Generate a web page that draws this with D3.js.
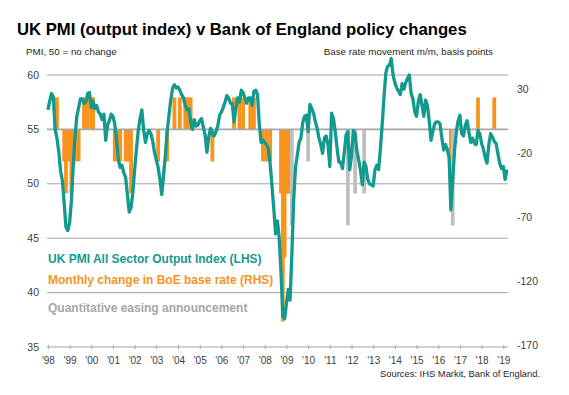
<!DOCTYPE html>
<html>
<head>
<meta charset="utf-8">
<script src="https://cdn.jsdelivr.net/npm/d3@7"></script>
<style>
  body { margin: 0; background: #fff; }
  svg { font-family: "Liberation Sans", Arial, sans-serif; }
</style>
</head>
<body>
<svg></svg>
<script>
// PMI all sector output index, monthly from Jan 1998
const pmi_values = [
  56.8, 57.6, 58.3, 58.0, 55.0, 54.2, 53.0, 51.2, 50.3, 48.2, 46.0, 45.7, // 1998
  46.4, 48.4, 51.6, 54.3, 56.2, 57.0, 57.8, 57.8, 57.4, 57.5, 58.3, 58.4, // 1999
  57.0, 57.6, 56.9, 57.2, 56.6, 56.4, 55.9, 56.4, 54.0, 55.4, 55.8, 56.4, // 2000
  56.2, 55.5, 54.0, 52.2, 51.5, 51.7, 51.0, 50.6, 49.0, 47.4, 47.8, 49.2, // 2001
  51.3, 53.2, 54.9, 56.0, 56.8, 54.9, 53.8, 54.6, 54.9, 54.6, 53.9, 52.9, // 2002
  52.2, 51.5, 50.4, 49.0, 50.8, 52.6, 54.8, 56.3, 57.7, 58.8, 59.1, 58.8, // 2003
  58.9, 58.6, 58.2, 57.9, 57.2, 56.8, 56.9, 55.7, 55.0, 55.9, 55.3, 55.4, // 2004
  55.8, 56.0, 55.2, 54.5, 52.9, 54.3, 55.1, 54.6, 54.4, 54.8, 55.3, 56.3, // 2005
  56.6, 57.0, 57.5, 58.1, 57.9, 57.4, 57.4, 55.7, 56.9, 57.9, 57.5, 58.6, // 2006
  58.4, 57.9, 57.4, 57.9, 57.9, 57.2, 58.5, 58.6, 58.2, 55.4, 53.8, 54.0, // 2007
  53.8, 53.6, 53.2, 51.8, 49.8, 47.7, 45.4, 46.6, 45.0, 41.8, 37.8, 37.6, // 2008
  39.0, 40.3, 39.3, 43.5, 48.5, 51.5, 52.6, 53.8, 54.2, 55.6, 56.2, 56.3, // 2009
  54.8, 57.3, 56.9, 56.5, 55.7, 55.1, 54.2, 53.6, 52.8, 54.2, 54.4, 53.6, // 2010
  51.6, 56.5, 56.0, 54.8, 53.3, 52.0, 52.0, 51.4, 52.9, 54.5, 54.8, 51.3, // 2011
  52.5, 54.9, 54.6, 53.0, 52.2, 51.2, 49.9, 52.0, 51.6, 50.4, 50.0, 49.9, // 2012
  49.8, 51.3, 51.7, 51.3, 53.2, 55.5, 58.0, 60.2, 60.8, 60.9, 61.5, 60.0, // 2013
  59.3, 58.8, 58.5, 58.2, 59.2, 58.7, 59.3, 59.7, 60.0, 58.3, 57.8, 56.6, // 2014
  56.2, 57.6, 58.2, 57.2, 56.2, 57.7, 57.2, 55.8, 54.0, 54.8, 55.5, 55.7, // 2015
  55.7, 55.5, 54.2, 53.1, 53.6, 53.2, 52.4, 47.6, 50.3, 53.0, 54.8, 55.8, // 2016
  56.3, 54.6, 54.4, 55.4, 55.8, 54.7, 53.8, 54.2, 53.7, 53.6, 54.9, 54.6, // 2017
  53.7, 53.2, 52.4, 51.9, 53.6, 54.6, 54.3, 53.9, 53.7, 52.8, 51.9, 51.4, // 2018
  51.6, 50.4, 51.3 // 2019
];

// BoE base rate changes, basis points
const rate_months = [
  "1998-06", "1998-10", "1998-11", "1998-12", "1999-01", "1999-02", "1999-04",
  "1999-06", "1999-09", "1999-11", "2000-01", "2000-02", "2001-02", "2001-04",
  "2001-05", "2001-08", "2001-09", "2001-10", "2001-11", "2003-02", "2003-07",
  "2003-11", "2004-02", "2004-05", "2004-06", "2004-08", "2005-08", "2006-08",
  "2006-11", "2007-01", "2007-05", "2007-07", "2007-12", "2008-02", "2008-04",
  "2008-10", "2008-11", "2008-12", "2009-01", "2009-02", "2009-03", "2016-08",
  "2017-11", "2018-08"
];
const rate_changes = [
  25, -25, -50, -25, -25, -50, -25,
  -25, 25, 25, 25, 25, -25, -25,
  -25, -25, -25, -25, -50, -25, -25,
  25, 25, 25, 25, 25, -25, 25,
  25, 25, 25, 25, -25, -25, -25,
  -50, -150, -100, -50, -50, -50, -25,
  25, 25
];

// QE announcements, drawn as negative bars on the right axis
const qe_months = ["2009-04", "2010-01", "2011-11", "2012-03", "2012-08", "2016-09"];
const qe_sizes = [-75, -25, -75, -50, -50, -75];

const year_labels = ["'98", "'99", "'00", "'01", "'02", "'03", "'04", "'05", "'06", "'07", "'08",
  "'09", "'10", "'11", "'12", "'13", "'14", "'15", "'16", "'17", "'18", "'19"];
const left_ticks = [60, 55, 50, 45, 40, 35];
const right_ticks = [30, -20, -70, -120, -170];

let width = 569,
  height = 395;

const teal = "#139a8e",
  orange = "#f7941d",
  grey = "#bfbfbf";

let svg = d3.select("svg").attr("width", width).attr("height", height);

const monthIndex = (s) => {
  const [y, m] = s.split("-").map(Number);
  return (y - 1998) * 12 + (m - 1);
};

let x = d3.scaleLinear().domain([-0.5, 254.6]).range([47, 508]);
let yL = d3.scaleLinear().domain([35, 60]).range([347, 75]);
let yR = d3.scaleLinear().domain([-170, 42.5]).range([347, 75]);

// Gridlines
svg
  .append("g")
  .selectAll("line")
  .data(left_ticks.filter((t) => t != 55 && t != 35))
  .enter()
  .append("line")
  .attr("x1", 47)
  .attr("x2", 508)
  .attr("y1", (d) => yL(d))
  .attr("y2", (d) => yL(d))
  .attr("stroke", "#8c8c8c")
  .attr("stroke-width", 0.8);

// Bottom axis
let xAxis = d3
  .axisBottom(x)
  .tickValues(year_labels.map((d, i) => i * 12))
  .tickFormat((d, i) => year_labels[i])
  .tickSize(3)
  .tickSizeOuter(0);

let gx = svg.append("g").attr("transform", "translate(0,347)").call(xAxis);
gx.select(".domain").attr("stroke", "#a6a6a6").attr("d", "M47,0H508");
gx.selectAll(".tick line").attr("stroke", "#a6a6a6").attr("y1", -2).attr("y2", 2);
gx.selectAll(".tick text")
  .attr("y", 10)
  .attr("font-size", 10)
  .attr("font-family", "Liberation Sans, Arial, sans-serif")
  .attr("fill", "#404040");

// Rate change bars
const bw = 3.8;
svg
  .append("g")
  .attr("id", "rates")
  .selectAll("rect")
  .data(rate_months.map((m, i) => ({ m: monthIndex(m), v: rate_changes[i] })))
  .enter()
  .append("rect")
  .attr("x", (d) => x(d.m) - bw / 2)
  .attr("width", bw)
  .attr("y", (d) => Math.min(yR(d.v), yR(0)))
  .attr("height", (d) => Math.abs(yR(d.v) - yR(0)))
  .attr("fill", orange);

// QE bars
svg
  .append("g")
  .attr("id", "qe")
  .selectAll("rect")
  .data(qe_months.map((m, i) => ({ m: monthIndex(m), v: qe_sizes[i] })))
  .enter()
  .append("rect")
  .attr("x", (d) => x(d.m) - bw / 2)
  .attr("width", bw)
  .attr("y", yR(0))
  .attr("height", (d) => yR(d.v) - yR(0))
  .attr("fill", grey);

// 55 / zero line
svg
  .append("line")
  .attr("x1", 47)
  .attr("x2", 508)
  .attr("y1", yL(55))
  .attr("y2", yL(55))
  .attr("stroke", "#a6a6a6")
  .attr("stroke-width", 1.6);

// PMI line
let line = d3
  .line()
  .x((d, i) => x(i))
  .y((d) => yL(d));

svg
  .append("path")
  .datum(pmi_values)
  .attr("d", line)
  .attr("fill", "none")
  .attr("stroke", teal)
  .attr("stroke-width", 3.3)
  .attr("stroke-linejoin", "round");

// Axis labels
svg
  .append("g")
  .selectAll("text")
  .data(left_ticks)
  .enter()
  .append("text")
  .attr("x", 39)
  .attr("y", (d) => yL(d))
  .attr("dy", "0.35em")
  .attr("text-anchor", "end")
  .attr("font-size", 10.5)
  .attr("fill", "#404040")
  .text((d) => d);

svg
  .append("g")
  .selectAll("text")
  .data(right_ticks)
  .enter()
  .append("text")
  .attr("x", 517)
  .attr("y", (d) => yR(d) - 2)
  .attr("dy", "0.35em")
  .attr("font-size", 10.5)
  .attr("fill", "#404040")
  .text((d) => d);

// Titles
svg
  .append("text")
  .attr("x", 17)
  .attr("y", 35)
  .attr("font-size", 16.7)
  .attr("font-weight", "bold")
  .attr("fill", "#000")
  .text("UK PMI (output index) v Bank of England policy changes");

svg
  .append("text")
  .attr("x", 26)
  .attr("y", 55)
  .attr("font-size", 9.8)
  .attr("fill", "#262626")
  .text("PMI, 50 = no change");

svg
  .append("text")
  .attr("x", 493)
  .attr("y", 55)
  .attr("text-anchor", "end")
  .attr("font-size", 9.8)
  .attr("fill", "#262626")
  .text("Base rate movement  m/m, basis points");

svg
  .append("text")
  .attr("x", 540)
  .attr("y", 377)
  .attr("text-anchor", "end")
  .attr("font-size", 9.4)
  .attr("fill", "#262626")
  .text("Sources: IHS Markit, Bank of England.");

// Legend
const legend = [
  { label: "UK PMI All Sector Output Index (LHS)", color: teal, y: 263 },
  { label: "Monthly change in BoE base rate (RHS)", color: orange, y: 284 },
  { label: "Quantitative easing announcement", color: "#a6a6a6", y: 312 },
];

svg
  .append("g")
  .attr("id", "legend")
  .selectAll("text")
  .data(legend)
  .enter()
  .append("text")
  .attr("x", 48)
  .attr("y", (d) => d.y)
  .attr("font-size", 12)
  .attr("font-weight", "bold")
  .attr("fill", (d) => d.color)
  .text((d) => d.label);
</script>
</body>
</html>
